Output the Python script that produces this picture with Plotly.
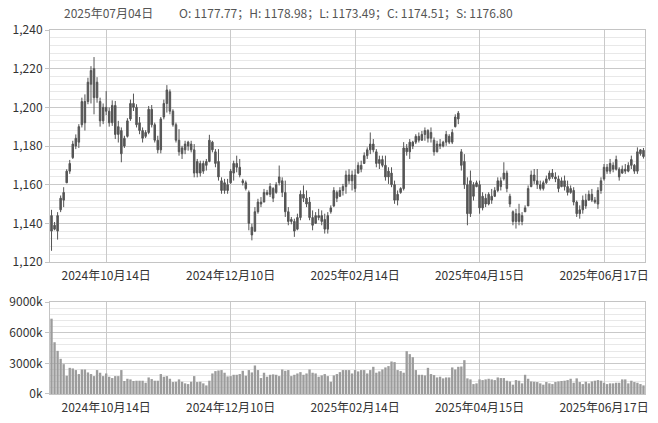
import plotly.graph_objects as go

# ---- data (index = trading-day order) ----
opens = [1144,1137,1136,1147,1152,1161,1167,1174,1180,1182,1191,1203,1203,1212,1220,1205,1203,1193,1200,1198,
         1192,1201,1186,1188,1180,1185,1194,1202,1200,1192,1188,1185,1187,1199,1191,1183,1178,1195,1202,1208,
         1198,1191,1183,1176,1178,1180,1181,1178,1166,1171,1167,1170,1172,1182,1177,1172,1162,1157,1160,1161,
         1166,1171,1169,1162,1161,1156,1138,1136,1146,1151,1151,1156,1155,1158,1156,1161,1162,1156,1146,1141,
         1141,1137,1143,1155,1153,1151,1143,1140,1144,1144,1142,1137,1146,1149,1156,1154,1157,1159,1165,1162,
         1165,1166,1170,1171,1175,1178,1181,1177,1171,1173,1170,1164,1166,1160,1152,1156,1158,1179,1177,1180,
         1182,1185,1183,1186,1188,1184,1183,1177,1181,1180,1182,1185,1182,1190,1194,1177,1172,1160,1145,1160,
         1159,1160,1148,1153,1150,1154,1154,1157,1162,1163,1166,1154,1146,1141,1145,1141,1146,1149,1159,1165,
         1162,1160,1158,1161,1163,1166,1164,1163,1159,1162,1159,1156,1157,1151,1145,1147,1152,1152,1155,1152,
         1150,1157,1163,1169,1167,1170,1168,1168,1166,1168,1167,1170,1170,1167,1176,1177.77]
highs = [1147,1140.7,1145.8,1154.4,1158.7,1168,1172.8,1182.7,1186,1191.3,1205,1206.7,1215.3,1221.3,1226,1215.6,1205,1202,1208.4,1199.9,
         1203.6,1203.3,1193,1189.6,1185.3,1194.4,1204,1207.1,1201.6,1195,1189.6,1188.2,1200.7,1201.2,1192.1,1185.3,1195,1204,1211.5,1209.3,
         1199,1192.1,1188.7,1180.1,1182.7,1182.7,1182.7,1181,1173.3,1172.4,1172.4,1173.3,1185.8,1182.7,1178.4,1178.4,1163.8,1163,1163,1168.1,
         1172.4,1175,1173.3,1163,1162.1,1157,1139.8,1148.4,1152.7,1153.6,1157.8,1157.3,1160.8,1158.7,1161.3,1169.9,1163.8,1162.1,1148.4,1143.3,
         1142.4,1145,1157,1159.6,1157,1153.6,1146.7,1145.8,1147.5,1146.7,1145,1145.8,1149.3,1158.7,1157,1158.7,1160.4,1167.3,1168,1167.3,
         1168,1171.6,1172.4,1176.7,1179.3,1187,1183.6,1178.4,1175,1175,1175,1169,1169,1162.1,1157,1158.7,1182,1181,1183.6,1182.7,
         1186.1,1187,1187.8,1189.6,1188.7,1189.6,1184.4,1182.7,1183.6,1182.7,1187.8,1186.1,1188.7,1196.4,1198.1,1178.4,1175.8,1163.8,1167.3,1161.3,
         1162.1,1162.1,1156.1,1155.3,1156.1,1157.8,1158.7,1163.8,1163.8,1171.6,1167.3,1155.3,1146.7,1147.5,1150.1,1145.8,1149.3,1159.6,1167.3,1168.1,
         1168.1,1162.1,1162.1,1164.7,1167.3,1168.1,1166.4,1164.7,1163.8,1164.7,1162.1,1159.6,1158.7,1151.8,1149.3,1154.4,1155.3,1157,1157.8,1153.6,
         1158.7,1163.8,1170.7,1170.7,1173.3,1171.6,1175,1169,1169.9,1170.7,1171.6,1175,1170.7,1179.3,1178.4,1178.98]
lows = [1125.8,1136.4,1131.6,1145.8,1148.4,1160.8,1165.6,1173.3,1178.4,1179,1189.6,1188,1201.6,1202,1196.4,1202.4,1190,1191.3,1196,1190,
        1190.4,1183.6,1181.8,1171.6,1179,1184.4,1193,1198.1,1189.6,1186.1,1181.8,1184.1,1186.1,1189.6,1181.8,1176.2,1176.2,1193.8,1197.3,1196.4,
        1190,1181.8,1175,1173.3,1175.8,1177.6,1176.7,1163.8,1163.8,1164.2,1165.6,1167.3,1171.6,1176.7,1169,1162.1,1155.3,1155.3,1155.3,1160.4,
        1162.1,1166.4,1163.8,1159.6,1157,1136.4,1131.2,1135.5,1145,1148.4,1151,1154.4,1153.6,1151,1155.3,1159.6,1153.6,1143.3,1139,1139.5,
        1133,1136.4,1141.6,1151,1148.4,1141.6,1136.4,1139.8,1141.6,1139,1134.7,1134.7,1145,1148.4,1151,1153.6,1154.4,1155.3,1160.4,1157,
        1156.1,1165.6,1166.4,1170.7,1173.3,1175.8,1176.7,1169,1168.1,1169,1162.1,1160.4,1158.7,1150.1,1149.3,1155.3,1157,1175,1173.3,1178.4,
        1181,1181.8,1182.7,1182.7,1181.8,1181.8,1175,1176.7,1178.4,1179.3,1180.1,1181,1181,1189.6,1191.3,1167.3,1157.8,1139,1143.3,1151.8,
        1158.7,1145,1146.7,1148.4,1149.3,1150.1,1153.6,1156.1,1157,1162.1,1156.1,1148.4,1139,1137.3,1139,1139,1145.8,1149.3,1158.7,1160.4,
        1157.8,1157,1157,1160.4,1162.1,1163,1161.3,1156.1,1158.7,1157,1154.4,1155.3,1149.3,1143.3,1142.4,1145,1147.5,1151.8,1151,1150.1,
        1147.5,1155.3,1162.1,1165.6,1165.6,1166.4,1167.3,1162.1,1165.6,1165.6,1166.4,1168.1,1165.6,1165.6,1175,1173.49]
closes = [1136,1139,1144,1153,1156,1167,1171,1181,1184,1190,1203,1192,1213,1219,1205,1213,1193,1200,1198,1192,
          1201,1186,1190,1176,1184,1193,1202,1200,1191,1188,1184,1187,1199,1191,1183,1178,1194,1202,1209,1198,
          1191,1183,1177,1179,1181,1182,1178,1166,1172,1166,1171,1172,1183,1178,1171,1164,1157,1161,1157,1167,
          1171,1169,1165,1161,1158,1140,1134,1146,1151,1150,1156,1155,1159,1153,1160,1164,1156,1146,1141,1142,
          1136,1143,1155,1153,1150,1143,1139,1144,1143,1141,1137,1144,1148,1157,1153,1157,1159,1165,1162,1165,
          1158,1170,1168,1175,1178,1181,1178,1171,1173,1170,1164,1167,1160,1152,1155,1158,1179,1177,1182,1182,
          1185,1183,1186,1188,1184,1187,1177,1181,1180,1182,1186,1182,1187,1195,1197,1170,1160,1145,1162,1154,
          1161,1148,1154,1150,1155,1152,1157,1162,1159,1166,1158,1150,1141,1145,1141,1144,1148,1158,1165,1162,
          1160,1158,1161,1163,1166,1164,1163,1158,1162,1159,1156,1158,1151,1145,1147,1152,1149,1155,1152,1151,
          1157,1162,1169,1167,1171,1168,1173,1164,1168,1167,1170,1173,1167,1177,1178,1174.51]
volumes_k = [7370,5065,4220,3440,2920,1790,2560,2500,2340,1950,2400,2400,2110,1950,1750,2340,2080,1750,2010,1690,
             1560,1750,1750,2340,1270,1490,1430,1270,1300,1300,1300,1100,1620,1460,1300,1300,1950,1690,1750,1490,
             1170,1200,1430,1200,1040,970,1200,1750,1170,1200,1040,840,1300,2010,2240,2300,2340,2080,1720,1750,
             1880,1880,1950,2270,1790,2340,2110,2790,2340,1560,2080,1690,1880,1920,1880,1750,2400,2270,2340,1750,
             1880,2010,2140,1880,2010,2400,2080,2010,1690,1820,1950,1750,1200,1820,1950,2140,2340,2340,2340,2010,
             2340,2210,2340,2340,2010,2340,2660,2080,2210,2400,2600,2730,3180,3120,2340,2240,2080,4190,3900,3600,
             2340,1880,1880,1820,2560,1950,1850,1620,1690,1530,1620,1620,2600,2400,2660,2690,3310,1530,1430,970,
             1040,1430,1360,1430,1490,1430,1360,1620,1560,1560,1300,1230,910,1360,1300,1040,1880,1490,1230,1200,
             1170,1040,910,1170,1040,970,1170,1230,1270,1300,1360,1490,1100,1530,1170,970,1200,1040,1230,1300,
             1360,1300,1100,970,1040,1040,1100,1100,1430,1430,1040,1300,1170,1100,970,840]
tick_idx = [18, 59, 100, 141, 182]
tick_labels = ["2024年10月14日", "2024年12月10日", "2025年02月14日", "2025年04月15日", "2025年06月17日"]
price_ticks = [1120, 1140, 1160, 1180, 1200, 1220, 1240]
vol_ticks = [0, 3000, 6000, 9000]
vol_tick_labels = ["0k", "3000k", "6000k", "9000k"]
header_date = "2025年07月04日"
header_ohlc = "O: 1177.77；H: 1178.98；L: 1173.49；C: 1174.51；S: 1176.80"

idx = list(range(len(opens)))
FONT = "Noto Sans CJK SC, Microsoft YaHei, sans-serif"
CANDLE = "#555555"
MAJOR = "#c9c9c9"
MINOR = "#e8e8e8"

fig = go.Figure()
fig.add_trace(go.Candlestick(
    x=idx, open=opens, high=highs, low=lows, close=closes,
    increasing=dict(line=dict(color=CANDLE, width=1), fillcolor=CANDLE),
    decreasing=dict(line=dict(color=CANDLE, width=1), fillcolor=CANDLE),
    whiskerwidth=0, xaxis="x", yaxis="y", showlegend=False, hoverinfo="skip"))
fig.add_trace(go.Bar(
    x=idx, y=volumes_k, marker=dict(color="#9c9c9c", line=dict(width=0)),
    xaxis="x2", yaxis="y2", showlegend=False, hoverinfo="skip"))

xcommon = dict(range=[-0.5, len(idx) - 0.5], tickmode="array", tickvals=tick_idx, ticktext=tick_labels,
               showgrid=True, gridcolor=MAJOR, gridwidth=1, zeroline=False,
               showline=True, mirror=True, linecolor="#c4c4c4", linewidth=1,
               ticks="outside", ticklen=3, tickcolor="rgba(0,0,0,0)", automargin=False,
               tickfont=dict(family=FONT, size=12, color="#333333"),
               rangeslider=dict(visible=False), fixedrange=True)

fig.update_layout(
    width=658, height=423,
    margin=dict(l=50, r=13, t=30, b=29),
    paper_bgcolor="white", plot_bgcolor="white",
    bargap=0.22,
    font=dict(family=FONT, size=12, color="#333333"),
    xaxis=dict(**xcommon, anchor="y"),
    xaxis2=dict(**xcommon, anchor="y2", matches="x"),
    yaxis=dict(domain=[0.3626, 1.0], range=[1120, 1240], tickmode="array", tickvals=price_ticks,
               tickformat=",", showgrid=True, gridcolor=MAJOR, zeroline=False,
               showline=True, mirror=True, linecolor="#c4c4c4", automargin=False,
               ticks="outside", ticklen=4, tickcolor="#c4c4c4",
               minor=dict(dtick=4, tick0=1120, showgrid=True, gridcolor=MINOR, ticks=""),
               tickfont=dict(family=FONT, size=12, color="#333333"), fixedrange=True),
    yaxis2=dict(domain=[0.0, 0.2527], range=[0, 9000], tickmode="array", tickvals=vol_ticks,
                ticktext=vol_tick_labels, showgrid=True, gridcolor=MAJOR, zeroline=False,
                showline=True, mirror=True, linecolor="#c4c4c4", automargin=False,
                ticks="outside", ticklen=4, tickcolor="#c4c4c4",
                minor=dict(dtick=600, tick0=0, showgrid=True, gridcolor=MINOR, ticks=""),
                tickfont=dict(family=FONT, size=12, color="#333333"), fixedrange=True),
    annotations=[
        dict(text=header_date, xref="paper", yref="paper", x=0.02, y=1.049, xanchor="left", yanchor="middle",
             showarrow=False, font=dict(family=FONT, size=12, color="#555555")),
        dict(text=header_ohlc, xref="paper", yref="paper", x=0.214, y=1.049, xanchor="left", yanchor="middle",
             showarrow=False, font=dict(family=FONT, size=12, color="#555555")),
    ],
)

# remove the page's default 8px body margin so the figure sits at the window's top-left corner
fig.write_html("out.html", config={"displayModeBar": False},
               post_script="document.body.style.margin='0';")
